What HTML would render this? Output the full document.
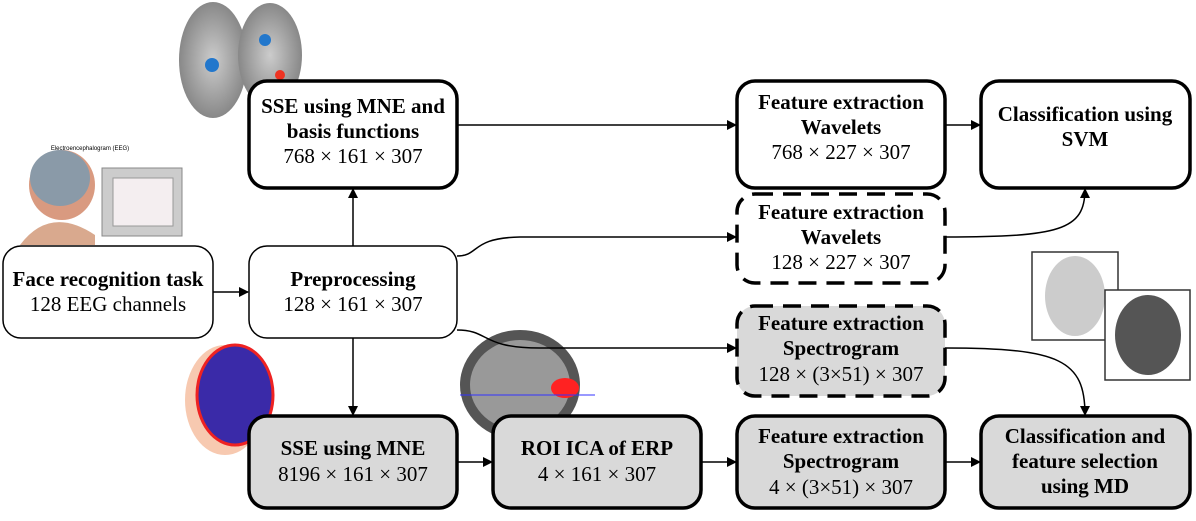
<!DOCTYPE html>
<html><head><meta charset="utf-8"><style>
body{margin:0;background:#fff;width:1196px;height:516px;overflow:hidden}
text{font-family:"Liberation Serif",serif;font-size:21px;fill:#000;text-anchor:middle}
.b{font-weight:bold}
</style></head><body>
<svg width="1196" height="516" viewBox="0 0 1196 516">
<defs>
<marker id="a" markerWidth="10" markerHeight="10" refX="9" refY="5" orient="auto" markerUnits="userSpaceOnUse"><path d="M0,0 L10,5 L0,10z" fill="#000"/></marker>
<radialGradient id="br" cx="50%" cy="50%" r="50%"><stop offset="0" stop-color="#ccc"/><stop offset="1" stop-color="#888"/></radialGradient>
</defs>
<ellipse cx="213" cy="60" rx="34" ry="58" fill="url(#br)"/>
<ellipse cx="270" cy="55" rx="32" ry="52" fill="url(#br)"/>
<circle cx="212" cy="65" r="7" fill="#27c"/><circle cx="265" cy="40" r="6" fill="#27c"/><circle cx="280" cy="75" r="5" fill="#e32"/>
<text x="90" y="150" style="font-size:6px;font-family:'Liberation Sans',sans-serif">Electroencephalogram (EEG)</text>
<ellipse cx="62" cy="185" rx="33" ry="35" fill="#d99a80"/>
<ellipse cx="60" cy="178" rx="30" ry="28" fill="#8a9aa8"/>
<path d="M20,245 Q50,205 95,235 L95,245z" fill="#d9a98e"/>
<rect x="102" y="168" width="80" height="68" fill="#ccc" stroke="#888"/>
<rect x="113" y="178" width="60" height="48" fill="#f4eef0" stroke="#999"/>
<ellipse cx="225" cy="400" rx="40" ry="55" fill="#f7c9b0"/>
<ellipse cx="235" cy="395" rx="38" ry="50" fill="#3a2aa8" stroke="#e22" stroke-width="3"/>
<ellipse cx="520" cy="385" rx="60" ry="55" fill="#555"/>
<ellipse cx="520" cy="385" rx="50" ry="45" fill="#999"/>
<ellipse cx="565" cy="388" rx="14" ry="10" fill="#f22"/>
<line x1="460" y1="395" x2="595" y2="395" stroke="#33f" stroke-width="1"/>
<rect x="1032" y="252" width="86" height="88" fill="#fff" stroke="#333" stroke-width="1.5"/>
<ellipse cx="1075" cy="296" rx="30" ry="40" fill="#ccc"/>
<rect x="1105" y="290" width="85" height="90" fill="#fff" stroke="#333" stroke-width="1.5"/>
<ellipse cx="1148" cy="335" rx="33" ry="40" fill="#555"/>
<g stroke="#000" stroke-width="1.5" fill="none">
<line x1="213" y1="292" x2="248" y2="292" marker-end="url(#a)"/>
<line x1="353" y1="246" x2="353" y2="189" marker-end="url(#a)"/>
<line x1="353" y1="338" x2="353" y2="415" marker-end="url(#a)"/>
<line x1="457" y1="125" x2="736" y2="125" marker-end="url(#a)"/>
<line x1="945" y1="125" x2="980" y2="125" marker-end="url(#a)"/>
<path d="M457,256 C480,256 470,238 520,237 L736,237" marker-end="url(#a)"/>
<path d="M457,330 C490,330 480,348 540,348 L736,348" marker-end="url(#a)"/>
<path d="M945,237 C1060,237 1085,230 1085,189" marker-end="url(#a)"/>
<path d="M945,348 C1060,348 1085,360 1085,415" marker-end="url(#a)"/>
<line x1="457" y1="462" x2="492" y2="462" marker-end="url(#a)"/>
<line x1="701" y1="462" x2="736" y2="462" marker-end="url(#a)"/>
<line x1="945" y1="462" x2="980" y2="462" marker-end="url(#a)"/>
</g>
<g stroke="#000" stroke-width="3.5">
<rect x="249" y="81" width="208" height="107" rx="18" fill="#fff"/>
<rect x="737" y="81" width="208" height="107" rx="18" fill="#fff"/>
<rect x="981" y="81" width="209" height="107" rx="18" fill="#fff"/>
<rect x="737" y="194" width="208" height="89" rx="18" fill="#fff" stroke-dasharray="18,10"/>
<rect x="737" y="306" width="208" height="90" rx="18" fill="#d9d9d9" stroke-dasharray="18,10"/>
<rect x="249" y="416" width="208" height="92" rx="18" fill="#d9d9d9"/>
<rect x="493" y="416" width="208" height="92" rx="18" fill="#d9d9d9"/>
<rect x="737" y="416" width="208" height="92" rx="18" fill="#d9d9d9"/>
<rect x="981" y="416" width="209" height="92" rx="18" fill="#d9d9d9"/>
</g>
<g stroke="#000" stroke-width="1.5">
<rect x="3" y="246" width="210" height="92" rx="18" fill="#fff"/>
<rect x="249" y="246" width="208" height="92" rx="18" fill="#fff"/>
</g>
<text class="b" x="353" y="113">SSE using MNE and</text>
<text class="b" x="353" y="138">basis functions</text>
<text x="353" y="163">768 × 161 × 307</text>
<text class="b" x="841" y="109">Feature extraction</text>
<text class="b" x="841" y="134">Wavelets</text>
<text x="841" y="159">768 × 227 × 307</text>
<text class="b" x="1085" y="121">Classification using</text>
<text class="b" x="1085" y="146">SVM</text>
<text class="b" x="841" y="219">Feature extraction</text>
<text class="b" x="841" y="244">Wavelets</text>
<text x="841" y="269">128 × 227 × 307</text>
<text class="b" x="108" y="286">Face recognition task</text>
<text x="108" y="311">128 EEG channels</text>
<text class="b" x="353" y="286">Preprocessing</text>
<text x="353" y="311">128 × 161 × 307</text>
<text class="b" x="841" y="330">Feature extraction</text>
<text class="b" x="841" y="355">Spectrogram</text>
<text x="841" y="381">128 × (3×51) × 307</text>
<text class="b" x="353" y="455">SSE using MNE</text>
<text x="353" y="481">8196 × 161 × 307</text>
<text class="b" x="597" y="455">ROI ICA of ERP</text>
<text x="597" y="481">4 × 161 × 307</text>
<text class="b" x="841" y="443">Feature extraction</text>
<text class="b" x="841" y="468">Spectrogram</text>
<text x="841" y="494">4 × (3×51) × 307</text>
<text class="b" x="1085" y="443">Classification and</text>
<text class="b" x="1085" y="468">feature selection</text>
<text class="b" x="1085" y="493">using MD</text>
</svg>
</body></html>
